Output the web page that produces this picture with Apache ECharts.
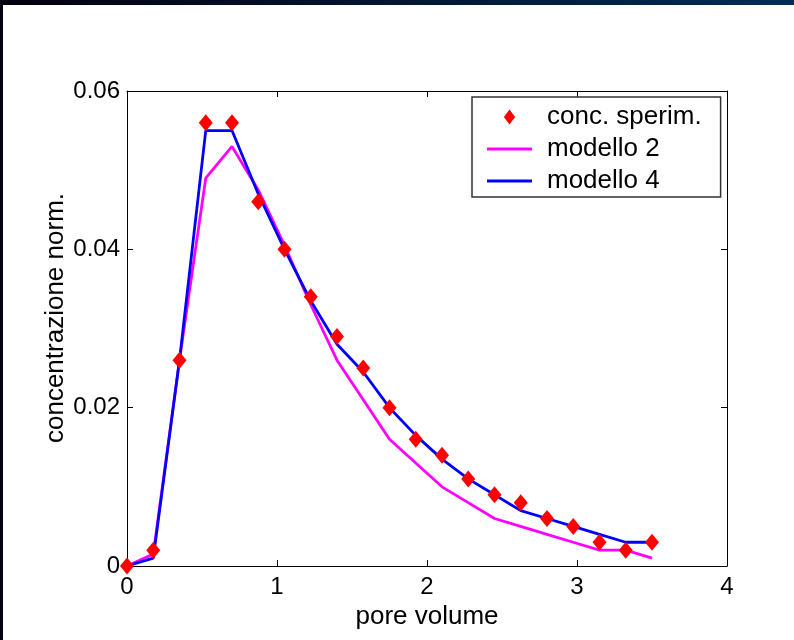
<!DOCTYPE html>
<html>
<head>
<meta charset="utf-8">
<script src="https://cdn.jsdelivr.net/npm/echarts@6/dist/echarts.min.js"></script>
<style>
html,body{margin:0;padding:0;background:#fff;}
#main{width:794px;height:640px;}
</style>
</head>
<body>
<div id="main"></div>
<script>
// ---- data ----
const poreVolume = [0, 0.175, 0.35, 0.525, 0.7, 0.875, 1.05, 1.225, 1.4, 1.575, 1.75, 1.925, 2.1, 2.275, 2.45, 2.625, 2.8, 2.975, 3.15, 3.325, 3.5];
const concSperim = [0, 0.002, 0.026, 0.056, 0.056, 0.046, 0.040, 0.034, 0.029, 0.025, 0.020, 0.016, 0.014, 0.011, 0.009, 0.008, 0.006, 0.005, 0.003, 0.002, 0.003];
const modello2 = [0, 0.0015, 0.026, 0.049, 0.053, 0.0475, 0.0405, 0.033, 0.026, 0.021, 0.016, 0.013, 0.010, 0.008, 0.006, 0.005, 0.004, 0.003, 0.002, 0.002, 0.001];
const modello4 = [0, 0.001, 0.026, 0.055, 0.055, 0.047, 0.040, 0.0335, 0.028, 0.0245, 0.020, 0.0165, 0.0135, 0.011, 0.009, 0.007, 0.006, 0.005, 0.004, 0.003, 0.003];
const seriesNames = ['conc. sperim.', 'modello 2', 'modello 4'];
const xTicks = [0, 1, 2, 3, 4];
const yTicks = [0, 0.02, 0.04, 0.06];
const xName = 'pore volume';
const yName = 'concentrazione norm.';

const pair = (xs, ys) => xs.map((x, i) => [x, ys[i]]);
const font = 'Liberation Sans, Arial, Helvetica, sans-serif';

const chart = echarts.init(document.getElementById('main'), null, {renderer: 'canvas'});
const axisCommon = {
  axisLine: {show: true, onZero: false, lineStyle: {color: '#000', width: 1}},
  axisTick: {show: true, inside: true, length: 6, lineStyle: {color: '#000', width: 1}},
  splitLine: {show: false}
};
const lineIcon = 'path://M0,0 L45,0 L45,2.8 L0,2.8 Z';
chart.setOption({
  animation: false,
  backgroundColor: '#ffffff',
  textStyle: {fontFamily: font},
  grid: {left: 127, top: 91, width: 600, height: 475, containLabel: false},
  xAxis: [
    Object.assign({}, axisCommon, {
      type: 'value', min: xTicks[0], max: xTicks[xTicks.length - 1], interval: 1, position: 'bottom',
      axisLabel: {fontSize: 24, color: '#000', margin: 9, fontFamily: font},
      name: xName, nameLocation: 'middle', nameGap: 32,
      nameTextStyle: {fontSize: 26, color: '#000', fontFamily: font}
    }),
    Object.assign({}, axisCommon, {
      type: 'value', min: xTicks[0], max: xTicks[xTicks.length - 1], interval: 1, position: 'top',
      axisLabel: {show: false}
    })
  ],
  yAxis: [
    Object.assign({}, axisCommon, {
      type: 'value', min: yTicks[0], max: yTicks[yTicks.length - 1], interval: 0.02, position: 'left',
      axisLabel: {fontSize: 24, color: '#000', margin: 7, fontFamily: font,
        formatter: v => v === 0 ? '0' : v.toFixed(2)}
    }),
    Object.assign({}, axisCommon, {
      type: 'value', min: yTicks[0], max: yTicks[yTicks.length - 1], interval: 0.02, position: 'right',
      axisLabel: {show: false}
    })
  ],
  legend: {
    orient: 'vertical', left: 472, top: 97,
    backgroundColor: '#fff', borderColor: '#333', borderWidth: 1.5,
    padding: [4, 19, 0, 15],
    itemWidth: 45, itemHeight: 15, itemGap: 0,
    textStyle: {fontSize: 26, color: '#000', lineHeight: 32, fontFamily: font, padding: [0, 0, 0, 10]},
    data: [
      {name: seriesNames[0], icon: 'path://M6,0 L12,8 L6,16 L0,8 Z'},
      {name: seriesNames[1], icon: lineIcon},
      {name: seriesNames[2], icon: lineIcon}
    ]
  },
  graphic: [
    {type: 'rect', left: 0, top: 0, shape: {width: 794, height: 5}, z: 100,
      style: {fill: new echarts.graphic.LinearGradient(0, 0, 1, 0, [{offset: 0, color: '#05000f'}, {offset: 1, color: '#002c55'}])}},
    {type: 'rect', left: 0, top: 0, shape: {width: 3, height: 640}, z: 100, style: {fill: '#05000f'}},
    {type: 'text', x: 56, y: 318, rotation: Math.PI / 2, z: 50,
      style: {text: yName, font: '26px ' + font, fill: '#000', textAlign: 'center', textVerticalAlign: 'middle'}}
  ],
  series: [
    {name: seriesNames[1], type: 'line', data: pair(poreVolume, modello2), symbol: 'none',
      lineStyle: {color: '#ff00ff', width: 2.8}, itemStyle: {color: '#ff00ff'}, z: 2},
    {name: seriesNames[2], type: 'line', data: pair(poreVolume, modello4), symbol: 'none',
      lineStyle: {color: '#0000ff', width: 2.8}, itemStyle: {color: '#0000ff'}, z: 3},
    {name: seriesNames[0], type: 'scatter', data: pair(poreVolume, concSperim), symbol: 'diamond',
      symbolSize: [14, 17], itemStyle: {color: '#ff0000', opacity: 1}, z: 4}
  ]
});
</script>
</body>
</html>
